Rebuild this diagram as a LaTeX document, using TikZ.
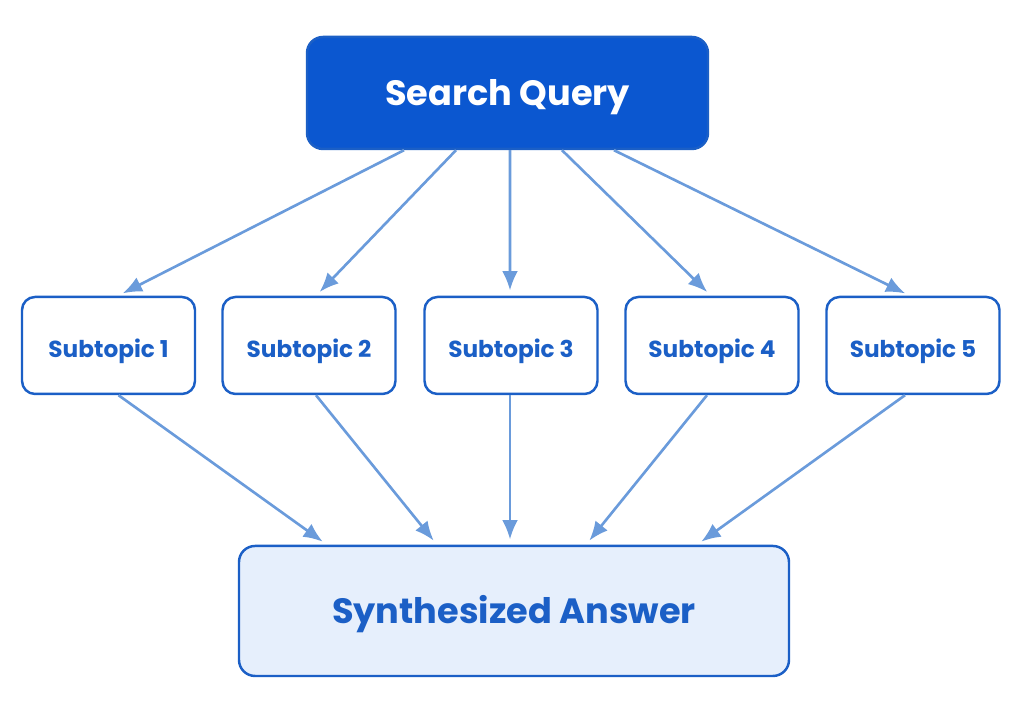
\documentclass[tikz,border=0pt]{standalone}
\usepackage{fontspec}
\setmainfont{Poppins}
\usetikzlibrary{arrows.meta,calc}

\definecolor{qblue}{HTML}{0B57D0}
\definecolor{sblue}{HTML}{1B5FC6}
\definecolor{ablue}{HTML}{6A9BDB}
\definecolor{afill}{HTML}{E6EFFC}

\tikzset{
    boxtext/.style={text height=0.8em, text depth=0.1em},
    querybox/.style={draw=sblue, fill=qblue, line width=0.7pt, rounded corners=0.16cm,
        minimum width=4.01cm, minimum height=1.12cm, text=white,
        font=\fontsize{10}{12}\selectfont\bfseries, boxtext},
    subbox/.style={draw=sblue, fill=white, line width=0.7pt, rounded corners=0.13cm,
        minimum width=1.73cm, minimum height=0.97cm, text=sblue,
        font=\fontsize{6.6}{8}\selectfont\bfseries, boxtext},
    answerbox/.style={draw=sblue, fill=afill, line width=0.7pt, rounded corners=0.16cm,
        minimum width=5.50cm, minimum height=1.30cm, text=sblue,
        font=\fontsize{10}{12}\selectfont\bfseries, boxtext},
    link/.style={draw=ablue, line width=0.75pt, -{Latex[length=5.5pt,width=4.5pt]}, shorten >=1.5pt}
}

\begin{document}
\begin{tikzpicture}
    \useasboundingbox (0,0) rectangle (10.24,7.17);
    \node[querybox] (query) at (5.075,6.24) {Search Query};
    \foreach \i/\x in {1/1.085,2/3.09,3/5.11,4/7.12,5/9.13}
        \node[subbox] (s\i) at (\x,3.715) {Subtopic \i};
    \node[answerbox] (answer) at (5.14,1.06) {Synthesized Answer};
    % query to subtopics
    \foreach \i/\dx/\ex in {1/-1.035/0.095,2/-0.515/0.07,3/0.025/-0.01,4/0.545/-0.01,5/1.065/-0.03}
        \draw[link] ($(query.south)+(\dx,0)$) -- ($(s\i.north)+(\ex,0)$);
    % subtopics to answer
    \foreach \i/\dx/\ex in {1/0.1/-1.87,2/0.07/-0.77,3/-0.01/-0.04,4/-0.05/0.72,5/-0.08/1.83}
        \draw[link] ($(s\i.south)+(\dx,0)$) -- ($(answer.north)+(\ex,0)$);
\end{tikzpicture}
\end{document}
